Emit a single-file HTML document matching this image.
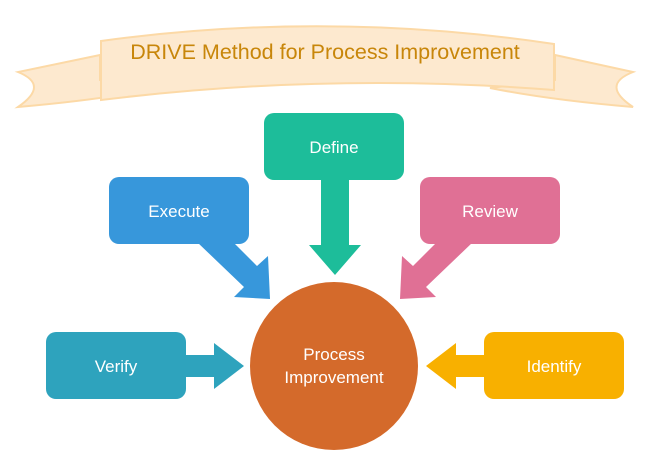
<!DOCTYPE html>
<html><head><style>
body{margin:0;background:#fff;}
svg{display:block}
text{font-family:"Liberation Sans",Arial,sans-serif;}
</style></head><body>
<svg width="650" height="470" viewBox="0 0 650 470" xmlns="http://www.w3.org/2000/svg">
<path d="M100,55 L18,72 Q50,85 18,107 Q100,100 160,88 L100,80 Z" fill="#fde9cf" stroke="#fcd9a6" stroke-width="2"/>
<path d="M555,55 L633,72 Q600,85 633,107 Q550,100 490,88 L555,80 Z" fill="#fde9cf" stroke="#fcd9a6" stroke-width="2"/>
<path d="M101,41 Q327,10 554,44 L554,90 Q327,72 101,100 Z" fill="#fde9cf" stroke="#fcd9a6" stroke-width="2"/>
<text x="325" y="59" font-size="21.5" fill="#c8860a" text-anchor="middle">DRIVE Method for Process Improvement</text>

<circle cx="334" cy="366" r="84" fill="#d46a2b"/>
<text x="334" y="360" font-size="17" fill="#fff" text-anchor="middle">Process</text>
<text x="334" y="383" font-size="17" fill="#fff" text-anchor="middle">Improvement</text>

<polygon points="321,178 349,178 349,245 361,245 335,275 309,245 321,245" fill="#1dbd9a"/>
<rect x="264" y="113" width="140" height="67" rx="10" fill="#1dbd9a"/>
<text x="334" y="153" font-size="17" fill="#fff" text-anchor="middle">Define</text>

<polygon points="197,242 233,242 257,266 268,256 270,299 234,297 244,287" fill="#3797db"/>
<rect x="109" y="177" width="140" height="67" rx="10" fill="#3797db"/>
<text x="179" y="217" font-size="17" fill="#fff" text-anchor="middle">Execute</text>

<polygon points="473,242 437,242 413,266 402,256 400,299 436,297 426,287" fill="#e07095"/>
<rect x="420" y="177" width="140" height="67" rx="10" fill="#e07095"/>
<text x="490" y="217" font-size="17" fill="#fff" text-anchor="middle">Review</text>

<polygon points="184,355 214,355 214,343 244,366 214,389 214,377 184,377" fill="#2ea3bd"/>
<rect x="46" y="332" width="140" height="67" rx="10" fill="#2ea3bd"/>
<text x="116" y="372" font-size="17" fill="#fff" text-anchor="middle">Verify</text>

<polygon points="486,355 456,355 456,343 426,366 456,389 456,377 486,377" fill="#f8b000"/>
<rect x="484" y="332" width="140" height="67" rx="10" fill="#f8b000"/>
<text x="554" y="372" font-size="17" fill="#fff" text-anchor="middle">Identify</text>
</svg>
</body></html>
